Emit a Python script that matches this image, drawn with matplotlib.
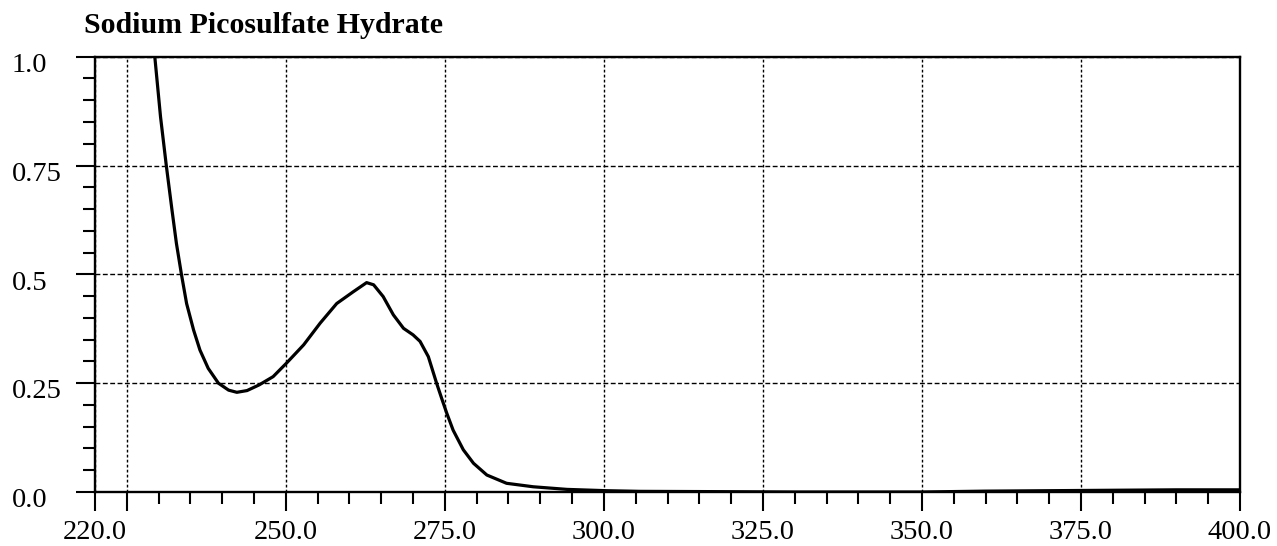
import numpy as np
from matplotlib import pyplot as plt
from matplotlib import transforms

# UV spectrum (wavelength nm, absorbance)
wavelength = [228.0, 229.4, 230.3, 231.2, 232.1, 232.8, 233.6, 234.4, 235.5, 236.5,
              237.8, 239.4, 241.0, 242.3, 243.9, 245.8, 248.0, 250.1, 252.8, 255.4,
              258.0, 260.6, 262.7, 263.8, 265.3, 266.9, 268.5, 270.0, 271.1, 272.4,
              273.7, 274.5, 275.3, 276.3, 277.9, 279.5, 281.6, 284.7, 288.9, 294.2,
              300.4, 305.7, 315.0, 330.0, 350.0, 360.0, 370.0, 380.0, 390.0, 400.0]
absorbance = [1.150, 1.000, 0.862, 0.751, 0.648, 0.571, 0.499, 0.433, 0.372, 0.326,
              0.284, 0.250, 0.234, 0.229, 0.233, 0.246, 0.265, 0.296, 0.338, 0.388,
              0.433, 0.460, 0.481, 0.476, 0.449, 0.407, 0.376, 0.361, 0.346, 0.311,
              0.250, 0.215, 0.181, 0.142, 0.097, 0.066, 0.039, 0.020, 0.012, 0.006,
              0.003, 0.0015, 0.001, 0.000, 0.000, 0.002, 0.003, 0.004, 0.005, 0.005]

x_major = [220, 225, 250, 275, 300, 325, 350, 375, 400]
x_labels = ['220.0', '', '250.0', '275.0', '300.0', '325.0', '350.0', '375.0', '400.0']
x_minor = np.arange(220, 401, 5)
y_major = [0.0, 0.25, 0.5, 0.75, 1.0]
y_labels = ['0.0', '0.25', '0.5', '0.75', '1.0']
y_minor = np.arange(0, 1.001, 0.05)

title = 'Sodium Picosulfate Hydrate'

plt.rcParams['font.family'] = ['Liberation Serif', 'DejaVu Serif']

fig = plt.figure(figsize=(12.77, 5.46), dpi=100)
ax = fig.add_axes([95 / 1277, 54 / 546, 1145 / 1277, 435.3 / 546])

ax.plot(wavelength, absorbance, color='black', lw=2.3,
        solid_joinstyle='round', solid_capstyle='round')
ax.set_xlim(220, 400)
ax.set_ylim(0, 1.0)

ax.set_xticks(x_major)
ax.set_xticklabels(x_labels, fontsize=20.5)
ax.set_xticks(x_minor, minor=True)
ax.set_yticks(y_major)
ax.set_yticks(y_minor, minor=True)
ax.tick_params(axis='both', which='major', length=14, width=1.5, color='black')
ax.tick_params(axis='both', which='minor', length=8.6, width=1.5, color='black')
ax.tick_params(axis='x', which='major', pad=6)
ax.tick_params(axis='y', labelleft=False)

# y labels sit left-aligned at the figure edge, a little below their ticks
lab_tr = transforms.offset_copy(ax.get_yaxis_transform(), fig=fig, y=-11, units='points')
for v, s in zip(y_major, y_labels):
    ax.text(-0.0725, v, s, transform=lab_tr, ha='left', va='baseline', fontsize=20.5)

ax.xaxis.grid(True, which='major', color='black', lw=1.0, linestyle=(0, (2.0, 1.6)))
ax.yaxis.grid(True, which='major', color='black', lw=1.0, linestyle=(0, (3.5, 1.8)))
ax.set_axisbelow(True)

for sp in ax.spines.values():
    sp.set_linewidth(1.7)

fig.text(84 / 1277, 1 - 33 / 546, title, fontsize=21.5, fontweight='bold', ha='left', va='baseline')

fig.savefig('out.png', dpi=100)
